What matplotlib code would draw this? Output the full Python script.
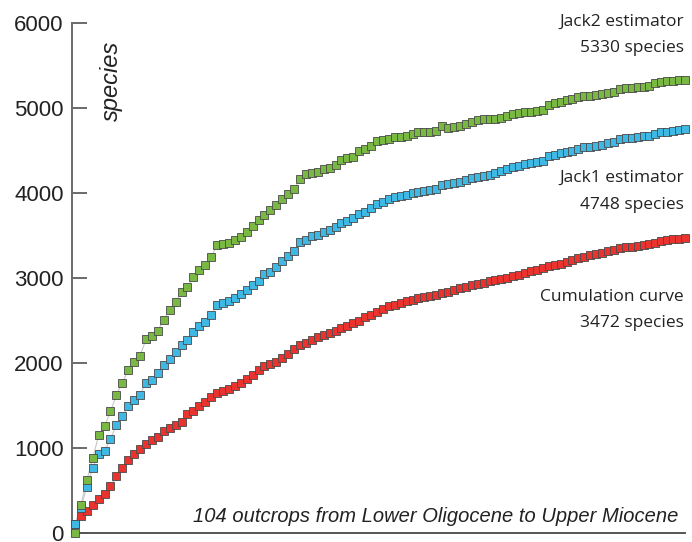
import matplotlib
matplotlib.use("Agg")
import matplotlib.pyplot as plt
import numpy as np

outcrops = list(range(1, 105))

jack2 = [0, 330, 620, 880, 1150, 1260, 1430, 1625, 1765, 1920,
         2010, 2085, 2280, 2320, 2380, 2510, 2620, 2720, 2830, 2895,
         3010, 3090, 3150, 3245, 3390, 3400, 3415, 3450, 3485, 3540,
         3610, 3680, 3745, 3800, 3855, 3930, 3985, 4045, 4165, 4220,
         4232, 4250, 4286, 4296, 4335, 4385, 4413, 4429, 4490, 4512,
         4555, 4607, 4620, 4637, 4655, 4655, 4665, 4700, 4714, 4714,
         4721, 4733, 4785, 4762, 4774, 4786, 4815, 4830, 4855, 4867,
         4873, 4876, 4883, 4903, 4932, 4944, 4949, 4949, 4965, 4980,
         5035, 5055, 5075, 5100, 5110, 5130, 5137, 5145, 5155, 5163,
         5172, 5186, 5228, 5235, 5240, 5243, 5250, 5255, 5290, 5310,
         5313, 5318, 5324, 5330]

jack1 = [110, 300, 540, 770, 930, 960, 1110, 1270, 1375, 1490,
         1560, 1625, 1770, 1800, 1885, 1975, 2050, 2125, 2215, 2265,
         2365, 2435, 2485, 2560, 2685, 2710, 2730, 2765, 2810, 2855,
         2920, 2965, 3050, 3075, 3130, 3195, 3260, 3320, 3420, 3450,
         3493, 3510, 3545, 3562, 3600, 3645, 3676, 3708, 3748, 3778,
         3820, 3876, 3896, 3925, 3952, 3968, 3982, 4002, 4014, 4025,
         4039, 4047, 4094, 4107, 4119, 4135, 4150, 4180, 4189, 4201,
         4217, 4234, 4256, 4282, 4305, 4322, 4337, 4351, 4366, 4378,
         4440, 4452, 4465, 4481, 4500, 4518, 4538, 4547, 4556, 4570,
         4583, 4600, 4633, 4642, 4650, 4656, 4665, 4673, 4700, 4716,
         4720, 4728, 4737, 4748]

cumulation = [106, 205, 260, 325, 395, 455, 550, 670, 770, 860,
              925, 985, 1045, 1100, 1130, 1195, 1230, 1265, 1310, 1395,
              1440, 1490, 1540, 1600, 1650, 1670, 1690, 1735, 1770, 1815,
              1860, 1920, 1960, 1990, 2015, 2060, 2110, 2160, 2210, 2240,
              2270, 2310, 2330, 2350, 2380, 2410, 2440, 2470, 2500, 2540,
              2570, 2600, 2630, 2665, 2685, 2705, 2725, 2745, 2760, 2775,
              2790, 2805, 2820, 2840, 2860, 2880, 2900, 2915, 2930, 2945,
              2960, 2975, 2985, 3000, 3020, 3040, 3060, 3080, 3100, 3115,
              3140, 3155, 3170, 3190, 3210, 3235, 3250, 3265, 3285, 3300,
              3315, 3330, 3350, 3360, 3370, 3380, 3390, 3400, 3415, 3430,
              3445, 3455, 3463, 3472]

yticks = [0, 1000, 2000, 3000, 4000, 5000, 6000]

series = [
    (jack2, "#79b843", "Jack2 estimator", "5330 species"),
    (jack1, "#3fb9e4", "Jack1 estimator", "4748 species"),
    (cumulation, "#e8332f", "Cumulation curve", "3472 species"),
]

W, H = 692, 542
fig = plt.figure(figsize=(W / 100, H / 100), dpi=100)
ax = fig.add_axes([72 / W, 9 / H, (685 - 72) / W, 510 / H])
ax.set_xlim(0.5, 104)
ax.set_ylim(0, 6000)

for vals, col, _, _ in series:
    ax.plot(outcrops, vals, color="#c8c8c8", lw=0.8, zorder=1, clip_on=False)
for vals, col, _, _ in series[::-1]:
    ax.plot(outcrops, vals, ls="none", marker="s", ms=5.3, mfc=col,
            mec="#4a4a4a", mew=0.6, zorder=3, clip_on=False)

for s in ["top", "right"]:
    ax.spines[s].set_visible(False)
ax.spines["left"].set_color("#6a6a6a")
ax.spines["left"].set_linewidth(1.4)
ax.spines["bottom"].set_color("#555555")
ax.spines["bottom"].set_linewidth(1.4)
ax.set_xticks([])
ax.set_yticks(yticks)
ax.set_yticklabels([str(v) for v in yticks], fontfamily="Liberation Sans",
                   fontsize=16, color="#222222")
ax.tick_params(axis="y", direction="in", length=11, width=1.4,
               color="#6a6a6a", pad=6)

fig.text(111 / W, 1 - 81 / H, "species",
         rotation=90, ha="center", va="center", fontsize=17,
         style="italic", fontfamily="Liberation Sans", color="#222222")

lab_font = "Open Sans"
ys = [(22, 48), (178, 205), (297, 323)]
for (vals, col, l1, l2), (y1, y2) in zip(series, ys):
    fig.text(684 / W, 1 - y1 / H, l1, ha="right", va="center",
             fontsize=12.5, fontfamily=lab_font, color="#222222")
    fig.text(684 / W, 1 - y2 / H, l2, ha="right", va="center",
             fontsize=12.5, fontfamily=lab_font, color="#222222")

fig.text(678 / W, 1 - 517 / H,
         "104 outcrops from Lower Oligocene to Upper Miocene",
         ha="right", va="center", fontsize=14.5, style="italic",
         fontfamily="Liberation Sans", color="#222222")

fig.savefig("out.png", dpi=100)
